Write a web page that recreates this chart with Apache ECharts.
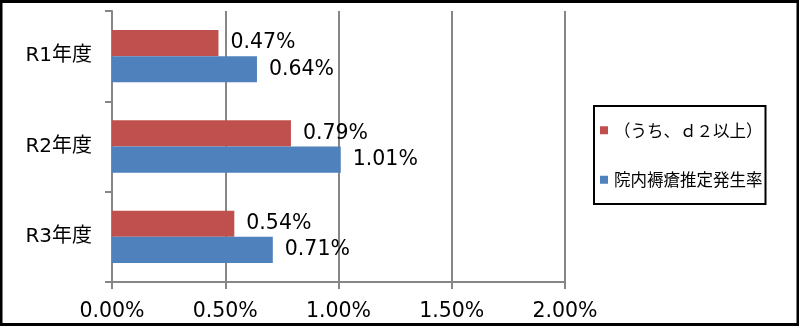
<!DOCTYPE html>
<html><head><meta charset="utf-8">
<script src="https://cdn.jsdelivr.net/npm/echarts@6/dist/echarts.min.js"></script>
<style>html,body{margin:0;padding:0;background:#fff}#c{width:799px;height:327px}</style>
</head><body><div id="c"></div>
<script>
const categories = ['R1年度', 'R2年度', 'R3年度'];
const seriesNames = ['（うち、ｄ２以上）', '院内褥瘡推定発生率'];
const d2Values = [0.47, 0.79, 0.54];
const rateValues = [0.64, 1.01, 0.71];
const xTicks = { min: 0, max: 2, interval: 0.5 };

const fontLatin = '"DejaVu Sans", "Noto Sans CJK JP", sans-serif';
const chart = echarts.init(document.getElementById('c'), null, { renderer: 'canvas' });
const gray = '#868686';
const labelCfg = {
  show: true, position: 'right', distance: 12,
  fontFamily: fontLatin, fontSize: 20.5, color: '#000',
  formatter: p => p.value.toFixed(2) + '%'
};
chart.setOption({
  animation: false,
  backgroundColor: '#fff',
  grid: { left: 112, right: 234, top: 11, bottom: 45 },
  legend: {
    orient: 'vertical', left: 594, top: 106,
    data: seriesNames,
    icon: 'rect', itemWidth: 8, itemHeight: 8, itemGap: 33,
    borderColor: '#000', borderWidth: 2, borderRadius: 0,
    padding: [16, 3, 16, 6],
    textStyle: { fontFamily: '"Noto Sans CJK JP", sans-serif', fontSize: 16.5, color: '#000', padding: [0, 0, 0, 1] }
  },
  xAxis: {
    type: 'value', min: xTicks.min, max: xTicks.max, interval: xTicks.interval,
    axisLine: { show: true, lineStyle: { color: gray, width: 2 } },
    axisTick: { show: true, length: 7, lineStyle: { color: gray, width: 2 } },
    splitLine: { show: true, lineStyle: { color: gray, width: 2 } },
    axisLabel: { margin: 19, fontFamily: fontLatin, fontSize: 20.5, color: '#000',
      formatter: v => v.toFixed(2) + '%' }
  },
  yAxis: {
    type: 'category', data: categories, inverse: true,
    axisLine: { show: true, lineStyle: { color: gray, width: 2 } },
    axisTick: { show: true, length: 7, lineStyle: { color: gray, width: 2 } },
    axisLabel: { margin: 20, fontFamily: fontLatin, fontSize: 20, color: '#000' }
  },
  series: [
    { name: seriesNames[0], type: 'bar', data: d2Values, barGap: '0%', barCategoryGap: '42%',
      itemStyle: { color: '#C0504D' }, label: labelCfg },
    { name: seriesNames[1], type: 'bar', data: rateValues, barGap: '0%', barCategoryGap: '42%',
      itemStyle: { color: '#4F81BD' }, label: labelCfg }
  ],
  graphic: [
    { type: 'rect', silent: true, z: 100, shape: { x: 1, y: 1.5, width: 797, height: 323 },
      style: { fill: 'none', stroke: '#000', lineWidth: 3 } }
  ]
});
</script></body></html>
